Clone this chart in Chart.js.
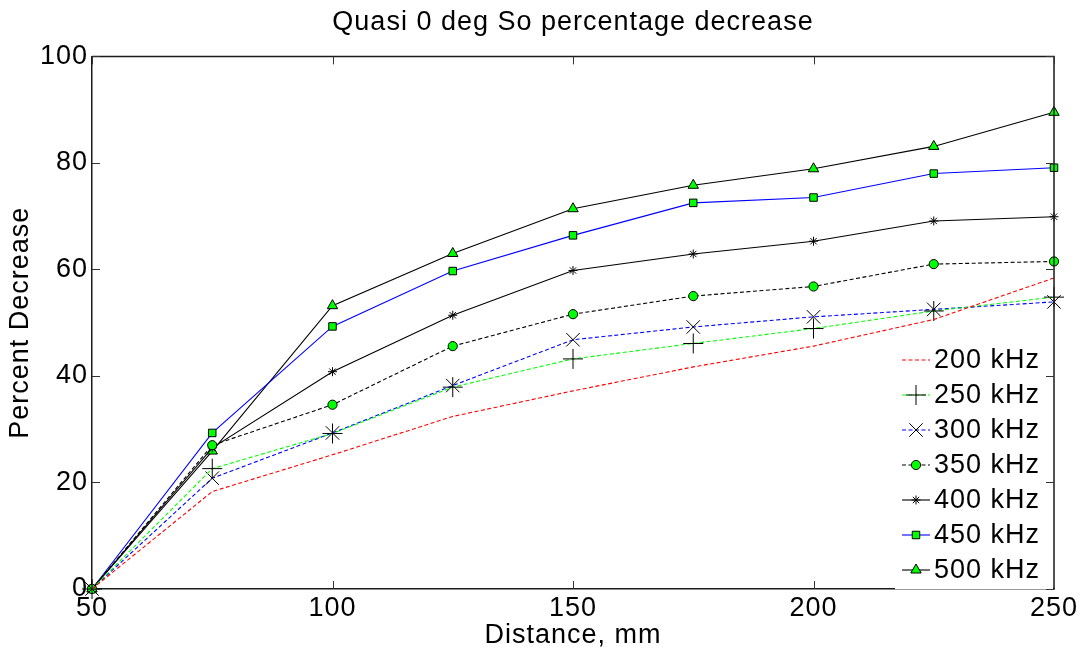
<!DOCTYPE html>
<html><head><meta charset="utf-8">
<script src="https://cdn.jsdelivr.net/npm/chart.js@4.4.0/dist/chart.umd.min.js"></script>
<style>html,body{margin:0;padding:0;background:#fff;overflow:hidden}#wrap{width:1086px;height:666px}</style>
</head><body><div id="wrap"><canvas id="c" width="1086" height="666"></canvas></div>
<script>
// ---- data ----
const distances = [50, 75, 100, 125, 150, 175, 200, 225, 250];
const s200 = [0, 18.3, 25.2, 32.4, 37.2, 41.7, 45.6, 50.6, 58.4];
const s250 = [0, 22.6, 29.2, 37.9, 43.2, 46.1, 48.9, 52.2, 54.8];
const s300 = [0, 20.8, 29.3, 38.2, 46.8, 49.2, 51.1, 52.5, 53.9];
const s350 = [0, 27.0, 34.6, 45.6, 51.6, 55.0, 56.8, 61.0, 61.5];
const s400 = [0, 26.5, 40.8, 51.4, 59.8, 62.9, 65.3, 69.1, 69.9];
const s450 = [0, 29.3, 49.3, 59.7, 66.4, 72.5, 73.5, 78.0, 79.1];
const s500 = [0, 25.9, 53.2, 63.0, 71.4, 75.8, 78.9, 83.1, 89.5];
const seriesLabels = ['200 kHz', '250 kHz', '300 kHz', '350 kHz', '400 kHz', '450 kHz', '500 kHz'];
const xTicks = [50, 100, 150, 200, 250];
const yTicks = [0, 20, 40, 60, 80, 100];
const titleText = 'Quasi 0 deg So percentage decrease';
const xTitle = 'Distance, mm';
const yTitle = 'Percent Decrease';

const FONT = "'Liberation Sans', Arial, Helvetica, sans-serif";
const GREEN = '#00ff00';
const toPts = arr => arr.map((v, i) => ({x: distances[i], y: v}));

function ds(label, data, color, dash, style, radius, fill) {
  return {
    label, data: toPts(data), borderColor: color, borderWidth: 1.1,
    borderDash: dash, pointStyle: style || 'circle', pointRadius: radius || 0,
    pointHoverRadius: radius || 0,
    pointBackgroundColor: fill || 'rgba(0,0,0,0)', pointBorderColor: '#000',
    pointBorderWidth: 1, tension: 0, fill: false, clip: false
  };
}

const datasets = [
  ds(seriesLabels[0], s200, '#ff0000', [4, 2.5], 'circle', 0),
  ds(seriesLabels[1], s250, GREEN, [4, 2.5], 'cross', 10),
  ds(seriesLabels[2], s300, '#0000ff', [4, 2.5], 'crossRot', 9.5),
  ds(seriesLabels[3], s350, '#000000', [4, 2.5], 'circle', 4.6, GREEN),
  ds(seriesLabels[4], s400, '#000000', [], 'star', 4.5),
  ds(seriesLabels[5], s450, '#0000ff', [], 'rect', 5.3, GREEN),
  ds(seriesLabels[6], s500, '#000000', [], 'triangle', 6, GREEN),
];

const spacingPlugin = {
  id: 'spacing',
  beforeDraw(chart) { chart.ctx.letterSpacing = '1px'; }
};

const legendPlugin = {
  id: 'boxLegend',
  afterDatasetsDraw(chart) {
    const ctx = chart.ctx, a = chart.chartArea;
    const left = a.right - 159, right = a.right - 1, bottom = a.bottom, top = a.bottom - 250;
    ctx.save();
    ctx.fillStyle = '#fff';
    ctx.fillRect(left, top, right - left, bottom - top + 1);
    ctx.strokeStyle = '#9a9a9a'; ctx.lineWidth = 1;
    ctx.beginPath(); ctx.moveTo(left, bottom + 0.5); ctx.lineTo(right, bottom + 0.5); ctx.stroke();
    const n = chart.data.datasets.length;
    chart.data.datasets.forEach((d, i) => {
      const y = a.bottom - 19 - 35 * (n - 1 - i);
      ctx.strokeStyle = d.borderColor; ctx.lineWidth = d.borderWidth;
      ctx.setLineDash(d.borderDash || []);
      ctx.beginPath(); ctx.moveTo(a.right - 152, y); ctx.lineTo(a.right - 124, y); ctx.stroke();
      ctx.setLineDash([]);
      if (d.pointRadius > 0) {
        ctx.fillStyle = d.pointBackgroundColor; ctx.strokeStyle = d.pointBorderColor;
        ctx.lineWidth = d.pointBorderWidth;
        Chart.helpers.drawPoint(ctx, {pointStyle: d.pointStyle, radius: d.pointRadius, borderWidth: d.pointBorderWidth, rotation: 0}, a.right - 138, y);
      }
      ctx.fillStyle = '#000'; ctx.font = '27px ' + FONT;
      ctx.textAlign = 'left'; ctx.textBaseline = 'middle';
      ctx.fillText(d.label, a.right - 120, y + 1);
    });
    ctx.restore();
  }
};

const framePlugin = {
  id: 'frame',
  afterDraw(chart) {
    const ctx = chart.ctx, a = chart.chartArea;
    const xs = chart.scales.x, ys = chart.scales.y;
    ctx.save();
    ctx.strokeStyle = '#1a1a1a'; ctx.lineWidth = 1.5;
    ctx.beginPath();
    ctx.moveTo(a.left, a.top); ctx.lineTo(a.right, a.top); ctx.lineTo(a.right, a.bottom);
    ctx.stroke();
    ctx.lineWidth = 1; ctx.strokeStyle = '#333';
    const L = 8;
    ctx.beginPath();
    xs.ticks.forEach(t => {
      const px = Math.round(xs.getPixelForValue(t.value)) + 0.5;
      if (px < a.right - 159) { ctx.moveTo(px, a.bottom); ctx.lineTo(px, a.bottom - L); }
      ctx.moveTo(px, a.top); ctx.lineTo(px, a.top + L);
    });
    ys.ticks.forEach(t => {
      const py = Math.round(ys.getPixelForValue(t.value)) + 0.5;
      ctx.moveTo(a.left, py); ctx.lineTo(a.left + L, py);
      ctx.moveTo(a.right, py); ctx.lineTo(a.right - L, py);
    });
    ctx.stroke();
    ctx.restore();
  }
};

new Chart(document.getElementById('c'), {
  type: 'line',
  data: {datasets},
  options: {
    responsive: false, animation: false, devicePixelRatio: 1,
    layout: {padding: {left: 0, right: 32, top: 0, bottom: 0}},
    plugins: {
      legend: {display: false},
      tooltip: {enabled: false},
      title: {display: true, text: titleText, color: '#000', fullSize: false,
        font: {family: FONT, size: 27, weight: 'normal'}, padding: {top: 6, bottom: 18}}
    },
    scales: {
      x: {
        type: 'linear', min: 50, max: 250,
        afterBuildTicks: s => { s.ticks = xTicks.map(v => ({value: v})); },
        afterFit: s => { s.height = 77; },
        grid: {display: false, drawTicks: false},
        border: {display: true, color: '#1a1a1a', width: 1.5},
        ticks: {color: '#000', padding: 3, maxRotation: 0, font: {family: FONT, size: 27}},
        title: {display: true, text: xTitle, color: '#000', font: {family: FONT, size: 27}, padding: {top: 14, bottom: 14}}
      },
      y: {
        type: 'linear', min: 0, max: 100,
        afterBuildTicks: s => { s.ticks = yTicks.map(v => ({value: v})); },
        afterFit: s => { s.width = 92; },
        grid: {display: false, drawTicks: false},
        border: {display: true, color: '#1a1a1a', width: 1.5},
        ticks: {color: '#000', padding: 4, font: {family: FONT, size: 27}},
        title: {display: true, text: yTitle, color: '#000', font: {family: FONT, size: 27}, padding: {top: 4, bottom: 4}}
      }
    }
  },
  plugins: [spacingPlugin, legendPlugin, framePlugin]
});
</script></body></html>
